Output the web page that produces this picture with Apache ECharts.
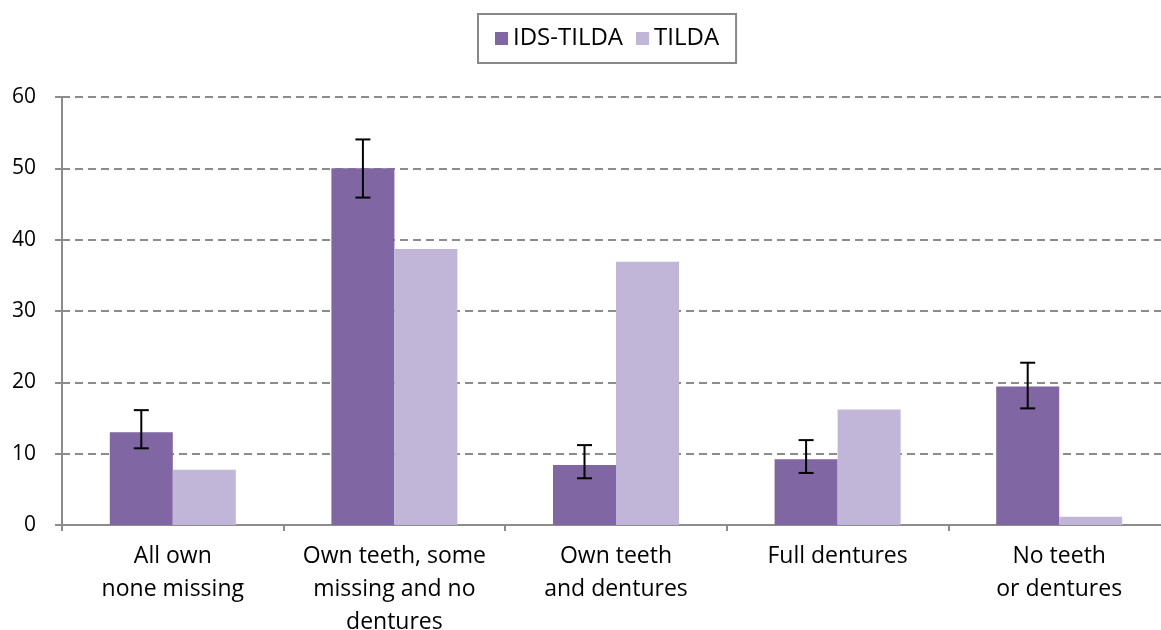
<!DOCTYPE html>
<html><head><meta charset="utf-8">
<script src="https://cdn.jsdelivr.net/npm/echarts@6/dist/echarts.min.js"></script>
<style>html,body{margin:0;padding:0;background:#fff}#c{width:1161px;height:630px}</style>
</head><body><div id="c"></div>
<script>
const categories = ["All own\nnone missing", "Own teeth, some\nmissing and no\ndentures", "Own teeth\nand dentures", "Full dentures", "No teeth\nor dentures"];
const idsTilda = [13.0, 50.0, 8.4, 9.2, 19.4];
const idsLow = [10.75, 45.9, 6.55, 7.3, 16.35];
const idsHigh = [16.1, 54.05, 11.2, 11.9, 22.75];
const tilda = [7.75, 38.7, 36.9, 16.2, 1.15];
const yTicks = [0, 10, 20, 30, 40, 50, 60];

const FONT = "Open Sans";
const BAR_W = 63;
const chart = echarts.init(document.getElementById('c'));
chart.setOption({
  animation: false,
  textStyle: {fontFamily: FONT},
  legend: {
    data: ["IDS-TILDA", "TILDA"],
    top: 14, left: 478,
    borderColor: '#888', borderWidth: 2, borderRadius: 0,
    padding: [12, 17, 12, 17],
    itemWidth: 13, itemHeight: 13, itemGap: 13,
    textStyle: {fontFamily: FONT, fontSize: 24, lineHeight: 25, color: '#000'},
    icon: 'rect'
  },
  grid: {left: 62, top: 97, width: 1108, height: 428, outerBoundsMode: 'none', containLabel: false},
  xAxis: {
    type: 'category', data: categories,
    axisLine: {lineStyle: {color: '#8c8c8c', width: 2}},
    axisTick: {show: true, length: 6, lineStyle: {color: '#8c8c8c', width: 2}},
    axisLabel: {interval: 0, fontFamily: FONT, fontSize: 23, color: '#000', lineHeight: 33, margin: 15}
  },
  yAxis: {
    type: 'value', min: yTicks[0], max: yTicks[yTicks.length - 1], interval: 10,
    axisLine: {show: true, lineStyle: {color: '#8c8c8c', width: 2}},
    axisTick: {show: true, length: 7, lineStyle: {color: '#8c8c8c', width: 2}},
    axisLabel: {fontFamily: FONT, fontSize: 21, color: '#000', margin: 26},
    splitLine: {lineStyle: {color: '#8c8c8c', width: 2, type: [8, 5]}}
  },
  series: [
    {name: "IDS-TILDA", type: 'bar', data: idsTilda, barWidth: BAR_W, barGap: 0,
     itemStyle: {color: '#8066a3'}},
    {name: "TILDA", type: 'bar', data: tilda, barWidth: BAR_W, barGap: 0,
     itemStyle: {color: '#c1b6d7'}},
    {name: 'err', type: 'custom', z: 10,
     data: idsLow.map((l, i) => [i, l, idsHigh[i]]),
     renderItem: function (params, api) {
       const i = api.value(0);
       const lo = api.coord([i, api.value(1)]);
       const hi = api.coord([i, api.value(2)]);
       const x = lo[0] - BAR_W / 2;
       const cap = 7.5;
       const st = {stroke: '#000', lineWidth: 2};
       return {type: 'group', children: [
         {type: 'line', shape: {x1: x, y1: lo[1], x2: x, y2: hi[1]}, style: st},
         {type: 'line', shape: {x1: x - cap, y1: lo[1], x2: x + cap, y2: lo[1]}, style: st},
         {type: 'line', shape: {x1: x - cap, y1: hi[1], x2: x + cap, y2: hi[1]}, style: st}
       ]};
     }}
  ]
});
</script></body></html>
